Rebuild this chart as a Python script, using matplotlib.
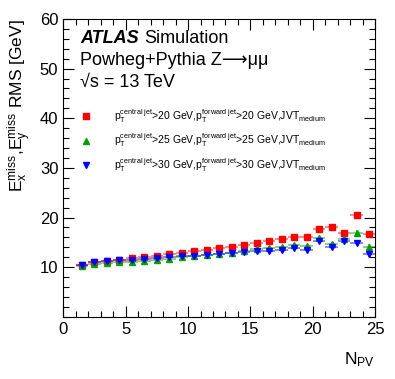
import matplotlib
matplotlib.use('Agg')
import matplotlib.pyplot as plt
from matplotlib.lines import Line2D
from matplotlib.ticker import MultipleLocator

plt.rcParams['font.family'] = ['Liberation Sans', 'DejaVu Sans']
plt.rcParams['mathtext.fontset'] = 'custom'
plt.rcParams['mathtext.rm'] = 'Liberation Sans'
plt.rcParams['mathtext.it'] = 'Liberation Sans:italic'
plt.rcParams['mathtext.bf'] = 'Liberation Sans:bold'

# data: RMS of Ex/Ey miss vs number of primary vertices
npv = [1.5, 2.5, 3.5, 4.5, 5.5, 6.5, 7.5, 8.5, 9.5, 10.5, 11.5, 12.5,
       13.5, 14.5, 15.5, 16.5, 17.5, 18.5, 19.5, 20.5, 21.5, 22.5, 23.5, 24.5]
rms_20 = [10.4, 11.0, 11.3, 11.5, 11.8, 12.1, 12.3, 12.6, 12.9, 13.2, 13.5, 13.8,
          14.1, 14.5, 14.9, 15.3, 15.7, 16.1, 16.1, 17.6, 18.0, 16.8, 20.5, 16.6]
rms_25 = [10.2, 10.7, 10.9, 11.0, 11.1, 11.3, 11.5, 11.7, 12.0, 12.3, 12.4, 12.7,
          12.9, 13.2, 13.6, 13.9, 14.1, 14.5, 14.3, 15.9, 14.6, 15.7, 16.8, 14.0]
rms_30 = [10.5, 11.1, 11.2, 11.4, 11.5, 11.7, 11.8, 12.0, 12.2, 12.3, 12.5, 12.6,
          12.8, 13.1, 13.2, 13.3, 13.5, 13.9, 13.5, 15.3, 14.0, 15.3, 14.8, 12.7]
err_y = [0.1, 0.1, 0.1, 0.1, 0.1, 0.1, 0.1, 0.1, 0.1, 0.1, 0.1, 0.15,
         0.15, 0.15, 0.2, 0.2, 0.2, 0.25, 0.3, 0.35, 0.4, 0.5, 0.6, 0.7]

labels = [
    r'$\mathrm{p}_{\mathrm{T}}^{\mathrm{central\ jet}}$>20 GeV,$\mathrm{p}_{\mathrm{T}}^{\mathrm{forward\ jet}}$>20 GeV,JVT$_{\mathrm{medium}}$',
    r'$\mathrm{p}_{\mathrm{T}}^{\mathrm{central\ jet}}$>25 GeV,$\mathrm{p}_{\mathrm{T}}^{\mathrm{forward\ jet}}$>25 GeV,JVT$_{\mathrm{medium}}$',
    r'$\mathrm{p}_{\mathrm{T}}^{\mathrm{central\ jet}}$>30 GeV,$\mathrm{p}_{\mathrm{T}}^{\mathrm{forward\ jet}}$>30 GeV,JVT$_{\mathrm{medium}}$',
]

fig = plt.figure(figsize=(3.95, 3.79), dpi=100)
ax = fig.add_axes([0.16, 0.164, 0.79, 0.786])

series = [(rms_20, '#ff0000', 's', 5.0),
          (rms_25, '#00a000', '^', 5.0),
          (rms_30, '#0000ff', 'v', 5.0)]
handles = []
for vals, col, mk, ms in series:
    ax.errorbar(npv, vals, xerr=0.5, yerr=err_y, fmt='none', ecolor=col,
                elinewidth=1.3, alpha=0.5, capsize=0)
    ax.plot(npv, vals, ls='none', marker=mk, color=col, ms=ms, mec=col)
    handles.append(Line2D([], [], ls='none', marker=mk, color=col, ms=4.5))

ax.set_xlim(0, 25)
ax.set_ylim(0, 60)
ax.xaxis.set_major_locator(MultipleLocator(5))
ax.xaxis.set_minor_locator(MultipleLocator(1))
ax.set_yticks([10, 20, 30, 40, 50, 60])
ax.yaxis.set_minor_locator(MultipleLocator(2))
ax.tick_params(which='both', direction='in', top=True, right=True, labelsize=12, width=0.8)
ax.tick_params(which='major', length=8)
ax.tick_params(which='minor', length=4)
for s in ax.spines.values():
    s.set_linewidth(0.8)

ax.set_ylabel(r'$\mathrm{E}_{\mathrm{x}}^{\mathrm{miss}}$,$\mathrm{E}_{\mathrm{y}}^{\mathrm{miss}}$ RMS [GeV]',
              fontsize=12.5, loc='top', labelpad=4)
ax.set_xlabel(r'$\mathrm{N}_{\mathrm{PV}}$', fontsize=12.5, loc='right', labelpad=10)

ax.text(0.055, 0.92, 'ATLAS', transform=ax.transAxes, fontsize=13,
        fontweight='bold', style='italic', va='baseline')
ax.text(0.258, 0.92, 'Simulation', transform=ax.transAxes, fontsize=13, va='baseline')
ax.text(0.055, 0.845, 'Powheg+Pythia Z\u27f6μμ', transform=ax.transAxes,
        fontsize=13, va='baseline')
ax.text(0.055, 0.772, '√s = 13 TeV', transform=ax.transAxes,
        fontsize=13, va='baseline')

ax.legend(handles, labels, loc='upper left', bbox_to_anchor=(0.025, 0.737),
          frameon=False, fontsize=7.5, handlelength=1.0, handletextpad=2.2,
          labelspacing=0.65)

fig.savefig('out.png', dpi=100)
